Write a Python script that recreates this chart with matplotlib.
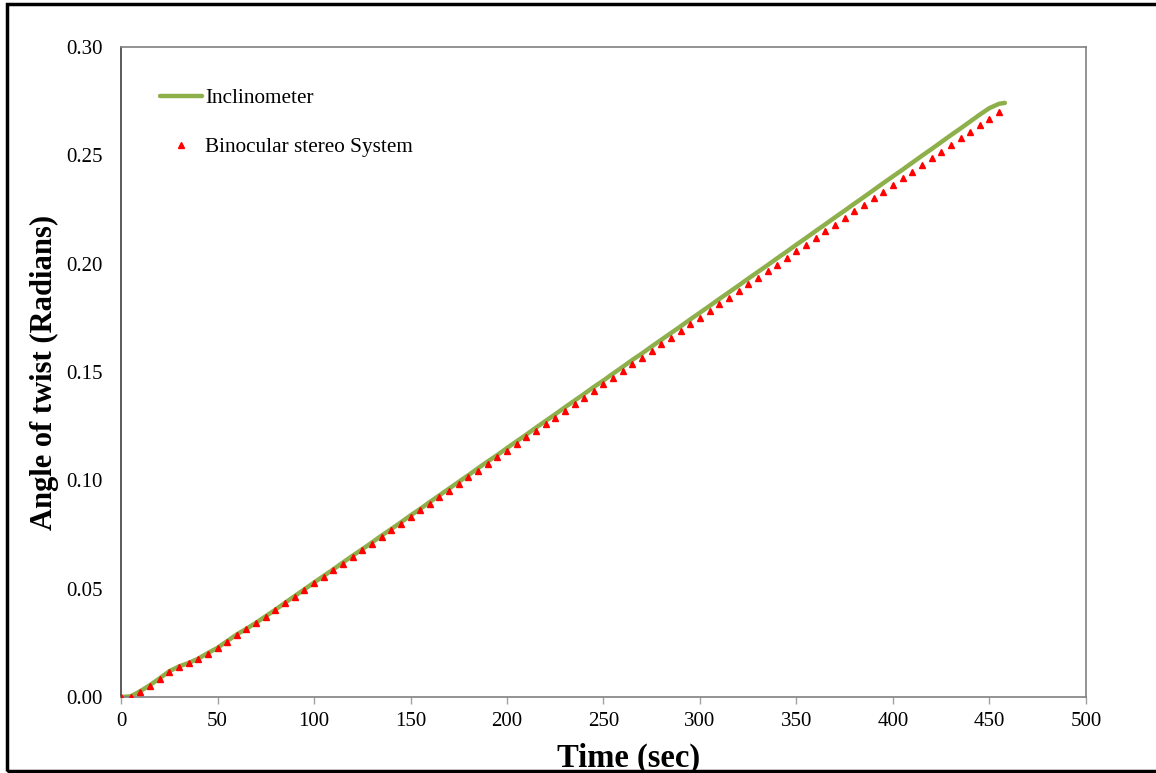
import matplotlib
matplotlib.use("Agg")
import matplotlib.pyplot as plt
from matplotlib.patches import Rectangle

plt.rcParams['font.family'] = ['Liberation Serif', 'DejaVu Serif']

# Binocular stereo system (markers every 5 s)
stereo_time = [0, 5, 10, 15, 20, 25, 30, 35, 40, 45, 50, 55, 60, 65, 70, 75, 80, 85,
               90, 95, 100, 105, 110, 115, 120, 125, 130, 135, 140, 145, 150, 155,
               160, 165, 170, 175, 180, 185, 190, 195, 200, 205, 210, 215, 220, 225,
               230, 235, 240, 245, 250, 255, 260, 265, 270, 275, 280, 285, 290, 295,
               300, 305, 310, 315, 320, 325, 330, 335, 340, 345, 350, 355, 360, 365,
               370, 375, 380, 385, 390, 395, 400, 405, 410, 415, 420, 425, 430, 435,
               440, 445, 450, 455]
stereo_angle = [0.0, 0.0, 0.0025, 0.0052, 0.0083, 0.0117, 0.0138, 0.0155, 0.0174, 0.0200,
                0.0224, 0.0254, 0.0286, 0.0312, 0.0340, 0.0370, 0.0400, 0.0432,
                0.0463, 0.0493, 0.0524, 0.0555, 0.0585, 0.0616, 0.0647, 0.0677,
                0.0708, 0.0739, 0.0769, 0.0800, 0.0831, 0.0861, 0.0892, 0.0923,
                0.0953, 0.0984, 0.1014, 0.1045, 0.1076, 0.1106, 0.1137, 0.1168,
                0.1198, 0.1229, 0.1260, 0.1290, 0.1321, 0.1352, 0.1382, 0.1413,
                0.1444, 0.1474, 0.1505, 0.1536, 0.1566, 0.1597, 0.1628, 0.1658,
                0.1689, 0.1720, 0.1750, 0.1781, 0.1812, 0.1842, 0.1873, 0.1904,
                0.1934, 0.1965, 0.1996, 0.2026, 0.2057, 0.2088, 0.2118, 0.2149,
                0.2180, 0.2210, 0.2241, 0.2272, 0.2302, 0.2333, 0.2364, 0.2394,
                0.2425, 0.2456, 0.2486, 0.2517, 0.2548, 0.2578, 0.2609, 0.2640,
                0.2670, 0.2701]

# Inclinometer (continuous line)
incl_time = [0, 5, 10, 15, 20, 25, 30, 35, 40, 45, 50, 55, 60, 65, 70, 75, 80, 85,
             90, 95, 100, 105, 110, 115, 120, 125, 130, 135, 140, 145, 150, 155,
             160, 165, 170, 175, 180, 185, 190, 195, 200, 205, 210, 215, 220, 225,
             230, 235, 240, 245, 250, 255, 260, 265, 270, 275, 280, 285, 290, 295,
             300, 305, 310, 315, 320, 325, 330, 335, 340, 345, 350, 355, 360, 365,
             370, 375, 380, 385, 390, 395, 400, 405, 410, 415, 420, 425, 430, 435,
             440, 445, 450, 455, 458]
incl_angle = [0.0, 0.0003, 0.0027, 0.0055, 0.0086, 0.0119, 0.0141, 0.0157, 0.0177, 0.0203,
              0.0227, 0.0258, 0.0289, 0.0315, 0.0343, 0.0373, 0.0403, 0.0435,
              0.0466, 0.0497, 0.0528, 0.0559, 0.0589, 0.0621, 0.0652, 0.0682,
              0.0713, 0.0745, 0.0775, 0.0806, 0.0838, 0.0868, 0.0900, 0.0931,
              0.0962, 0.0993, 0.1024, 0.1056, 0.1087, 0.1117, 0.1149, 0.1180,
              0.1211, 0.1243, 0.1274, 0.1305, 0.1337, 0.1368, 0.1399, 0.1431,
              0.1461, 0.1493, 0.1524, 0.1556, 0.1586, 0.1618, 0.1649, 0.1680,
              0.1711, 0.1743, 0.1774, 0.1805, 0.1837, 0.1868, 0.1899, 0.1931,
              0.1962, 0.1993, 0.2025, 0.2056, 0.2088, 0.2119, 0.2151, 0.2182,
              0.2214, 0.2245, 0.2277, 0.2308, 0.2340, 0.2372, 0.2403, 0.2434,
              0.2466, 0.2498, 0.2529, 0.2561, 0.2593, 0.2624, 0.2656, 0.2688,
              0.2718, 0.2738, 0.2742]

x_ticks = [0, 50, 100, 150, 200, 250, 300, 350, 400, 450, 500]
y_ticks = [0.00, 0.05, 0.10, 0.15, 0.20, 0.25, 0.30]

fig = plt.figure(figsize=(11.56, 7.73), dpi=100)
ax = fig.add_axes([0.1047, 0.0983, 0.8347, 0.8409])

ax.plot(incl_time, incl_angle, color='#8DB04B', linewidth=3.2,
        solid_capstyle='round', label='Inclinometer', zorder=2)
ax.plot(stereo_time, stereo_angle, linestyle='none', marker='^', markersize=4.5,
        color='#FF0000', markeredgecolor='#FF0000', label='Binocular stereo System', zorder=3)

ax.set_xlim(0, 500)
ax.set_ylim(0, 0.30)
ax.set_xticks(x_ticks)
ax.set_yticks(y_ticks)
ax.set_xticklabels([str(t) for t in x_ticks])
ax.set_yticklabels([f"{v:.2f}" for v in y_ticks])
ax.tick_params(axis='x', direction='out', length=5, width=1, color='#A0A0A0',
               labelsize=15, pad=6)
ax.tick_params(axis='y', length=0, labelsize=15, pad=13.5)

for side in ['top', 'right', 'bottom']:
    ax.spines[side].set_color('#808080')
    ax.spines[side].set_linewidth(1.2)
ax.spines['left'].set_color('#404040')
ax.spines['left'].set_linewidth(1.2)

ax.set_xlabel('Time (sec)', fontsize=23.5, fontweight='bold')
ax.xaxis.set_label_coords(0.526, -0.070)
ax.set_ylabel('Angle of twist (Radians)', fontsize=22, fontweight='bold')
ax.yaxis.set_label_coords(-0.064, 0.5)

leg = ax.legend(loc='upper left', bbox_to_anchor=(0.040, 0.9365), frameon=False,
                fontsize=15.3, handlelength=2.0, handletextpad=0.15,
                labelspacing=1.37, borderpad=0, borderaxespad=0, markerscale=1.0)

fig.patches.append(Rectangle((7 / 1156, 2 / 773), 1.05, 767 / 773,
                             transform=fig.transFigure, fill=False,
                             edgecolor='black', linewidth=2.5, zorder=10))

fig.savefig('out.png', dpi=100)
